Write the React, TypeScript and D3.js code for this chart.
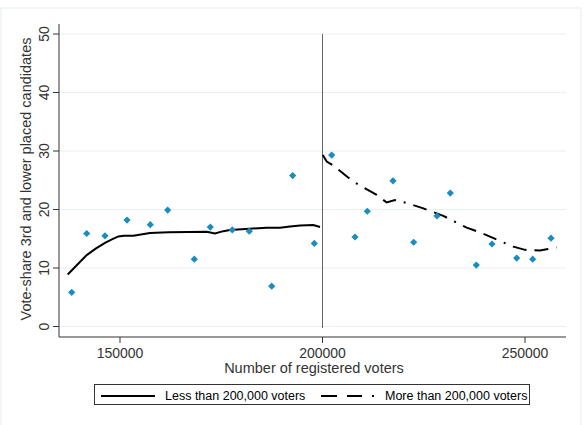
import React from 'react';
import * as d3 from 'd3';

// scatter: registered voters vs vote-share of 3rd and lower candidates
const voters = [138074, 141778, 146296, 151728, 157481, 161778, 168346, 172296, 177728, 181926, 187457, 192642, 197975,
	202272, 208025, 211062, 217407, 222510, 228271, 231556, 237975, 241852, 247951, 251901, 256420];
const share = [5.85, 15.9, 15.5, 18.2, 17.4, 19.9, 11.5, 17.0, 16.5, 16.3, 6.9, 25.8, 14.2,
	29.3, 15.3, 19.7, 24.9, 14.4, 18.9, 22.8, 10.5, 14.1, 11.7, 11.5, 15.1];

// fitted curve below cut-off
const lowX = [137086, 139500, 141778, 144000, 146296, 148000, 149588, 151000, 153292, 157407, 162000, 167000, 171407, 173457, 175500, 177160, 182000, 186220, 189506, 191975, 194500, 197728, 199383];
const lowY = [8.9, 10.6, 12.2, 13.3, 14.3, 14.9, 15.4, 15.5, 15.5, 16.0, 16.1, 16.15, 16.2, 15.9, 16.3, 16.5, 16.7, 16.9, 16.9, 17.1, 17.25, 17.35, 17.0];

// fitted curve above cut-off
const highX = [200062, 201049, 202700, 207600, 213377, 215846, 217900, 220790, 224900, 229840, 235600, 238890, 241360, 247120, 250000, 253700, 255350, 257800];
const highY = [29.3, 28.2, 27.5, 24.75, 22.5, 21.2, 21.6, 21.1, 20.2, 18.9, 16.9, 16.1, 15.35, 13.65, 13.1, 13.0, 13.2, 13.5];

const yTicks = [0, 10, 20, 30, 40, 50];
const xTicks = [150000, 200000, 250000];
const cutoff = 200000;

const W = 584, H = 425;
const font = 'Arial, "Liberation Sans", sans-serif';

export default function App()
{
	const x = d3.scaleLinear().domain([150000, 250000]).range([120, 525]);
	const y = d3.scaleLinear().domain([0, 50]).range([326.5, 34]);

	const low = d3.line<number>().x(i => x(lowX[i])).y(i => y(lowY[i]))(d3.range(lowX.length)) || '';
	const high = d3.line<number>().x(i => x(highX[i])).y(i => y(highY[i]))(d3.range(highX.length)) || '';
	// square turned 45deg gives an even diamond
	const diamond = d3.symbol(d3.symbolSquare, 26)() || '';

	const left = 59, right = 566, top = 24, bottom = 337;

	return (
		<svg width={W} height={H} style={{ position: 'absolute', left: 0, top: 0, background: '#fff' }}>
			<rect x={1} y={8} width={580} height={440} fill="none" stroke="#e4eeef" />

			{yTicks.map(t =>
				<line key={'g' + t} x1={left} x2={right} y1={y(t)} y2={y(t)} stroke="#e8f0f2" strokeWidth={1} />
			)}

			{/* axes */}
			<line x1={left} x2={left} y1={top} y2={bottom} stroke="#333" />
			<line x1={left} x2={right} y1={bottom} y2={bottom} stroke="#333" />

			{yTicks.map(t =>
				<g key={'y' + t}>
					<line x1={left - 6} x2={left} y1={y(t)} y2={y(t)} stroke="#333" />
					<text transform={`translate(49,${y(t)}) rotate(-90)`} textAnchor="middle" fontFamily={font} fontSize={14} fill="#333">{t}</text>
				</g>
			)}
			{xTicks.map(t =>
				<g key={'x' + t}>
					<line x1={x(t)} x2={x(t)} y1={bottom} y2={bottom + 6} stroke="#333" />
					<text x={x(t)} y={357.5} textAnchor="middle" fontFamily={font} fontSize={14} fill="#333">{t}</text>
				</g>
			)}

			<text transform={`translate(31,179) rotate(-90)`} textAnchor="middle" fontFamily={font} fontSize={14.5} fill="#333">Vote-share 3rd and lower placed candidates</text>
			<text x={314} y={373} textAnchor="middle" fontFamily={font} fontSize={14.5} fill="#333">Number of registered voters</text>

			<line x1={x(cutoff)} x2={x(cutoff)} y1={34} y2={328} stroke="#666" strokeWidth={1} />

			<path d={low} fill="none" stroke="#000" strokeWidth={2} />
			<path d={high} fill="none" stroke="#000" strokeWidth={2} strokeDasharray="14,8,14,8,2,8" />

			{voters.map((v, i) =>
				<path key={i} d={diamond} transform={`translate(${x(v)},${y(share[i])}) rotate(45)`} fill="#1a8cc0" />
			)}

			{/* legend */}
			<rect x={94.5} y={384.5} width={435} height={20} fill="#fff" stroke="#333" />
			<line x1={101} x2={155} y1={396} y2={396} stroke="#000" strokeWidth={2} />
			<text x={165} y={400} fontFamily={font} fontSize={12.5} fill="#000">Less than 200,000 voters</text>
			<line x1={321} x2={374} y1={396} y2={396} stroke="#000" strokeWidth={2} strokeDasharray="16,10,15,10,2,50" />
			<text x={385} y={400} fontFamily={font} fontSize={12.5} fill="#000">More than 200,000 voters</text>
		</svg>
	);
}
